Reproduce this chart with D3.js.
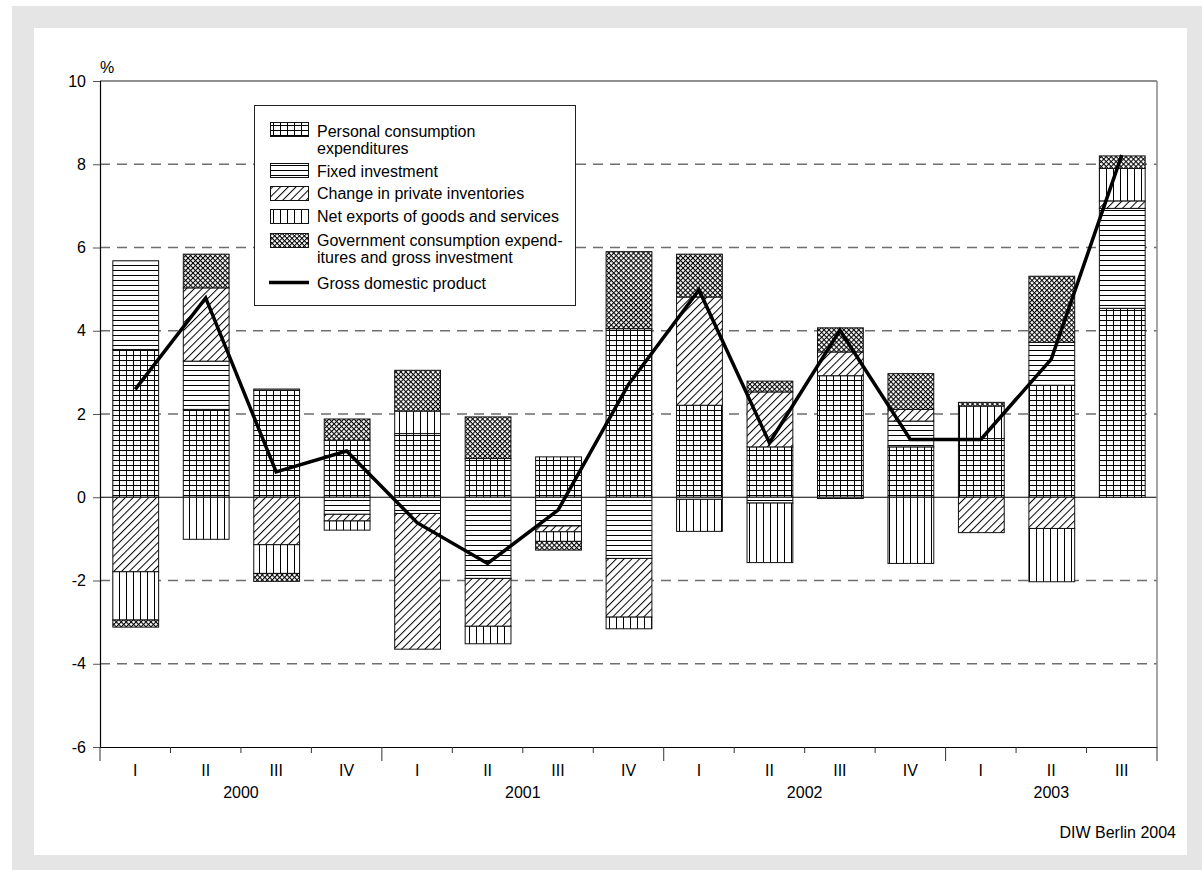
<!DOCTYPE html>
<html>
<head>
<meta charset="utf-8">
<script src="https://cdn.jsdelivr.net/npm/d3@7"></script>
<style>
  body { margin: 0; background: #fff; }
  text { font-family: "Liberation Sans", Arial, Helvetica, sans-serif; fill: #000; }
</style>
</head>
<body>
<div id="chart"></div>
<script>
// quarter labels and the year groups under them
var quarters = ["I", "II", "III", "IV", "I", "II", "III", "IV", "I", "II", "III", "IV", "I", "II", "III"];
var years = ["2000", "2001", "2002", "2003"];
var quartersPerYear = [4, 4, 4, 3];

// contributions to GDP growth, percentage points
var pce =          [3.55, 2.11, 2.57, 1.37, 1.53, 0.93, 0.97, 4.05, 2.21, 1.21, 2.92, 1.21, 1.41, 2.69, 4.54];
var fixed =        [2.13, 1.16, 0.03, -0.41, -0.39, -1.95, -0.69, -1.47, -0.05, -0.14, -0.03, 0.62, 0, 1.03, 2.40];
var inventories =  [-1.79, 1.76, -1.14, -0.16, -3.26, -1.15, -0.14, -1.41, 2.60, 1.32, 0.57, 0.28, -0.85, -0.75, 0.18];
var netExports =   [-1.16, -1.01, -0.69, -0.22, 0.54, -0.42, -0.23, -0.28, -0.77, -1.43, 0, -1.59, 0.78, -1.28, 0.78];
var government =   [-0.17, 0.81, -0.19, 0.51, 0.98, 1.00, -0.21, 1.85, 1.03, 0.26, 0.58, 0.86, 0.09, 1.59, 0.30];
var gdp =          [2.59, 4.79, 0.61, 1.11, -0.61, -1.59, -0.31, 2.71, 4.98, 1.31, 4.01, 1.39, 1.39, 3.32, 8.22];

var yTicks = [-6, -4, -2, 0, 2, 4, 6, 8, 10];

var keys = ["pce", "fixed", "inventories", "netExports", "government"];
var legendLabels = [
    ["Personal consumption", "expenditures"],
    ["Fixed investment"],
    ["Change in private inventories"],
    ["Net exports of goods and services"],
    ["Government consumption expend-", "itures and gross investment"],
    ["Gross domestic product"]
];

var width = 1202, height = 870;
var plot = {left: 100, right: 1157, top: 81, bottom: 747};

var svg = d3.select("#chart")
    .append("svg")
    .attr("width", width)
    .attr("height", height);

// grey frame with white panel
svg.append("rect").attr("x", 12).attr("y", 6).attr("width", width - 12).attr("height", height - 6).attr("fill", "#e5e5e5");
svg.append("rect").attr("x", 34).attr("y", 28).attr("width", 1153).attr("height", 827).attr("fill", "#fff");

// hatch patterns
var defs = svg.append("defs");
function addPattern(id, w, h, d, transform) {
    var p = defs.append("pattern")
        .attr("id", id)
        .attr("patternUnits", "userSpaceOnUse")
        .attr("width", w)
        .attr("height", h);
    if (transform) p.attr("patternTransform", transform);
    p.append("rect").attr("width", w).attr("height", h).attr("fill", "#fff");
    p.append("path").attr("d", d).attr("stroke", "#000").attr("stroke-width", 1).attr("fill", "none");
}
addPattern("pat-pce", 7, 5, "M0.5,0V5M0,0.5H7");
addPattern("pat-fixed", 10, 5, "M0,0.5H10");
addPattern("pat-inventories", 5.5, 10, "M0.5,0V10", "rotate(45)");
addPattern("pat-netExports", 7, 10, "M0.5,0V10");
addPattern("pat-government", 3.5, 3.5, "M0.5,0V3.5M0,0.5H3.5", "rotate(45)");

var ids = quarters.map((q, i) => "q" + i);

var x = d3.scaleBand()
    .domain(ids)
    .range([plot.left, plot.right])
    .paddingInner(0.35)
    .paddingOuter(0.175);

var y = d3.scaleLinear()
    .domain([-6, 10])
    .range([plot.bottom, plot.top]);

// dashed gridlines
svg.append("g")
    .selectAll("line")
    .data(yTicks.filter(d => d !== 0 && d !== 10 && d !== -6))
    .enter()
    .append("line")
    .attr("x1", plot.left)
    .attr("x2", plot.right)
    .attr("y1", d => y(d))
    .attr("y2", d => y(d))
    .attr("stroke", "#6e6e6e")
    .attr("stroke-width", 1.3)
    .attr("stroke-dasharray", "10,7");

// zero line
svg.append("line")
    .attr("x1", plot.left).attr("x2", plot.right)
    .attr("y1", y(0)).attr("y2", y(0))
    .attr("stroke", "#000").attr("stroke-width", 1.2);

// plot frame top and right
svg.append("line")
    .attr("x1", plot.left).attr("x2", plot.right)
    .attr("y1", plot.top).attr("y2", plot.top)
    .attr("stroke", "#222").attr("stroke-width", 1.2);
svg.append("line")
    .attr("x1", plot.right).attr("x2", plot.right)
    .attr("y1", plot.top).attr("y2", plot.bottom)
    .attr("stroke", "#888").attr("stroke-width", 1.5);

// stacked bars
var rows = ids.map((id, i) => ({
    id: id,
    pce: pce[i],
    fixed: fixed[i],
    inventories: inventories[i],
    netExports: netExports[i],
    government: government[i]
}));

var stack = d3.stack().keys(keys).offset(d3.stackOffsetDiverging);
var series = stack(rows);

svg.append("g")
    .selectAll("g")
    .data(series)
    .enter()
    .append("g")
    .attr("fill", d => "url(#pat-" + d.key + ")")
    .selectAll("rect")
    .data(d => d.filter(s => s[1] - s[0] !== 0))
    .enter()
    .append("rect")
    .attr("x", d => x(d.data.id) + 0.5)
    .attr("width", x.bandwidth())
    .attr("y", d => y(d[1]))
    .attr("height", d => y(d[0]) - y(d[1]))
    .attr("stroke", "#111")
    .attr("stroke-width", 1);

// GDP line
var line = d3.line()
    .x((d, i) => x(ids[i]) + x.bandwidth() / 2)
    .y(d => y(d));

svg.append("path")
    .datum(gdp)
    .attr("d", line)
    .attr("fill", "none")
    .attr("stroke", "#000")
    .attr("stroke-width", 3.5)
    .attr("stroke-linejoin", "miter");

// y axis
var yAxis = svg.append("g")
    .attr("transform", "translate(" + plot.left + ",0)")
    .call(d3.axisLeft(y).tickValues(yTicks).tickSize(7).tickPadding(7).tickFormat(d3.format("d")));
yAxis.select(".domain").attr("stroke", "#000").attr("stroke-width", 1.2);
yAxis.selectAll(".tick line").attr("stroke", "#555");
yAxis.selectAll(".tick text")
    .attr("font-size", 16)
    .attr("font-family", "'Liberation Sans', Arial, sans-serif")
    .text(d => d < 0 ? "-" + Math.abs(d) : d);

svg.append("text")
    .attr("x", 107)
    .attr("y", 67)
    .attr("text-anchor", "middle")
    .attr("dominant-baseline", "central")
    .attr("font-size", 16)
    .text("%");

// x axis: quarter labels
var xAxis = svg.append("g")
    .attr("transform", "translate(0," + plot.bottom + ")")
    .call(d3.axisBottom(x).tickSize(0).tickPadding(0).tickFormat((d, i) => quarters[i]));
xAxis.select(".domain").attr("stroke", "#000").attr("stroke-width", 1.2);
xAxis.selectAll(".tick text")
    .attr("font-size", 16)
    .attr("font-family", "'Liberation Sans', Arial, sans-serif")
    .attr("dy", null)
    .attr("y", 23)
    .attr("dominant-baseline", "central");

// boundary ticks, longer between years
var yearStarts = d3.cumsum([0].concat(quartersPerYear));
var boundaries = d3.range(ids.length + 1);
svg.append("g")
    .selectAll("line")
    .data(boundaries)
    .enter()
    .append("line")
    .attr("x1", d => plot.left + d * x.step())
    .attr("x2", d => plot.left + d * x.step())
    .attr("y1", plot.bottom)
    .attr("y2", d => plot.bottom + (yearStarts.indexOf(d) >= 0 ? 14 : 6))
    .attr("stroke", "#333")
    .attr("stroke-width", 1);

// year labels
svg.append("g")
    .selectAll("text")
    .data(years)
    .enter()
    .append("text")
    .attr("x", (d, i) => plot.left + (yearStarts[i] + quartersPerYear[i] / 2) * x.step())
    .attr("y", plot.bottom + 45)
    .attr("text-anchor", "middle")
    .attr("dominant-baseline", "central")
    .attr("font-size", 16)
    .text(d => d);

// source
svg.append("text")
    .attr("x", 1176)
    .attr("y", 832)
    .attr("text-anchor", "end")
    .attr("dominant-baseline", "central")
    .attr("font-size", 16)
    .text("DIW Berlin 2004");

// legend
var legend = svg.append("g");
legend.append("rect")
    .attr("x", 254.5).attr("y", 105.5)
    .attr("width", 321).attr("height", 200)
    .attr("fill", "#fff")
    .attr("stroke", "#222")
    .attr("stroke-width", 1);

var swatchTops = [122.5, 163.5, 186.5, 209.5, 233.5];
var textRows = [130.5, 171, 193, 216, 240, 283];

keys.forEach(function(k, i) {
    legend.append("rect")
        .attr("x", 270.5).attr("y", swatchTops[i])
        .attr("width", 38).attr("height", 14)
        .attr("fill", "url(#pat-" + k + ")")
        .attr("stroke", "#111");
});
legend.append("line")
    .attr("x1", 269).attr("x2", 309)
    .attr("y1", 282.5).attr("y2", 282.5)
    .attr("stroke", "#000").attr("stroke-width", 3.5);

legendLabels.forEach(function(lines, i) {
    var t = legend.append("text")
        .attr("x", 317)
        .attr("y", textRows[i])
        .attr("dominant-baseline", "central")
        .attr("font-size", 16);
    lines.forEach(function(l, j) {
        t.append("tspan")
            .attr("x", 317)
            .attr("dy", j === 0 ? 0 : 17)
            .text(l);
    });
});
</script>
</body>
</html>
